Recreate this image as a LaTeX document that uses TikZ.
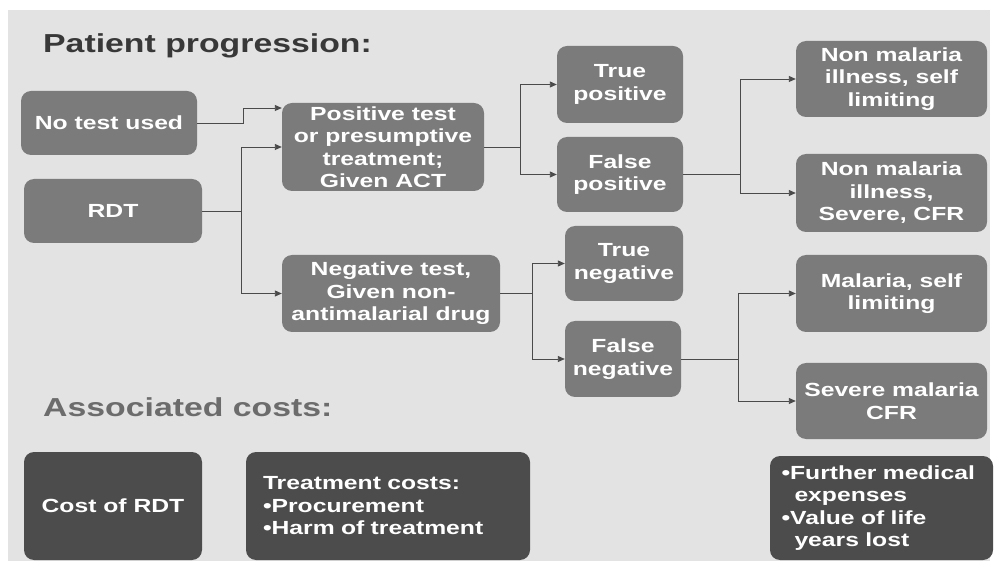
\documentclass[tikz,border=0pt]{standalone}
\usepackage{fontspec}
\setmainfont{Liberation Sans}[FakeStretch=1.3]
\usetikzlibrary{arrows.meta}
\definecolor{bggray}{HTML}{E3E3E3}
\definecolor{boxgray}{HTML}{7B7B7B}
\definecolor{darkgray}{HTML}{4C4C4C}
\definecolor{linegray}{HTML}{4A4A4A}
\definecolor{headdark}{HTML}{383838}
\definecolor{headlight}{HTML}{6C6C6C}
\begin{document}
\begin{tikzpicture}[x=1pt,y=-1pt,
	box/.style={rounded corners=10pt,fill=boxgray,text=white,align=center,inner sep=2pt,
		font=\bfseries\fontsize{19}{22.5}\selectfont},
	darkbox/.style={box,fill=darkgray},
	heading/.style={anchor=base west,inner sep=0pt,font=\bfseries\fontsize{26}{30}\selectfont},
	conn/.style={draw=linegray,line width=0.9pt,-{Triangle[length=7pt,width=6pt]}}]
	\useasboundingbox (0,0) rectangle (994,561);
	\fill[white] (0,0) rectangle (994,561);
	\fill[bggray] (8,10) rectangle (990,561);
	% headings
	\node[heading,text=headdark] (hpp) at (43,53) {Patient progression:};
	\node[heading,text=headlight] (hac) at (43,417) {Associated costs:};
	% progression boxes
	\node[box,minimum width=176pt,minimum height=64pt] (nt) at (109,123) {No test used};
	\node[box,minimum width=178pt,minimum height=64pt] (rdt) at (113,211) {RDT};
	\node[box,minimum width=202pt,minimum height=88pt] (pos) at (383,147) {Positive test\\or presumptive\\treatment;\\Given ACT};
	\node[box,minimum width=218pt,minimum height=77pt] (neg) at (391,293.5) {Negative test,\\Given non-\\antimalarial drug};
	\node[box,minimum width=126pt,minimum height=77pt] (tp) at (620,84.5) {True\\positive};
	\node[box,minimum width=126pt,minimum height=75pt] (fp) at (620,174.5) {False\\positive};
	\node[box,minimum width=118pt,minimum height=75pt] (tn) at (624,263.5) {True\\negative};
	\node[box,minimum width=116pt,minimum height=76pt] (fn) at (623,359) {False\\negative};
	\node[box,minimum width=191pt,minimum height=76pt] (nms) at (891.5,79) {Non malaria\\illness, self\\limiting};
	\node[box,minimum width=191pt,minimum height=78pt] (nmc) at (891.5,193) {Non malaria\\illness,\\Severe, CFR};
	\node[box,minimum width=191pt,minimum height=77pt] (ms) at (891.5,293.5) {Malaria, self\\limiting};
	\node[box,minimum width=191pt,minimum height=76pt] (sm) at (891.5,401) {Severe malaria\\CFR};
	% cost boxes
	\node[darkbox,minimum width=178pt,minimum height=108pt] (crdt) at (113,506) {Cost of RDT};
	\node[darkbox,align=left,text width=250pt,inner xsep=17pt,minimum height=108pt] (tc) at (388,506)
		{Treatment costs:\\\textbullet Procurement\\\textbullet Harm of treatment};
	\node[darkbox,align=left,text width=200pt,inner xsep=11.5pt,minimum height=104pt] (fme) at (881.5,508)
		{\textbullet Further medical\\\hspace*{13pt}expenses\\\textbullet Value of life\\\hspace*{13pt}years lost};
	% connectors
	\draw[conn] (nt.east) -- ++(46,0) |- ([yshift=39pt]pos.west);
	\draw[linegray,line width=0.9pt] (rdt.east) -- ++(39,0) coordinate (rj);
	\draw[conn] (rj) |- (pos.west);
	\draw[conn] (rj) |- (neg.west);
	\draw[linegray,line width=0.9pt] (pos.east) -- ++(36,0) coordinate (pj);
	\draw[conn] (pj) |- (tp.west);
	\draw[conn] (pj) |- (fp.west);
	\draw[linegray,line width=0.9pt] (neg.east) -- ++(32,0) coordinate (nj);
	\draw[conn] (nj) |- (tn.west);
	\draw[conn] (nj) |- (fn.west);
	\draw[linegray,line width=0.9pt] (fp.east) -- ++(57,0) coordinate (fpj);
	\draw[conn] (fpj) |- (nms.west);
	\draw[conn] (fpj) |- (nmc.west);
	\draw[linegray,line width=0.9pt] (fn.east) -- ++(57,0) coordinate (fnj);
	\draw[conn] (fnj) |- (ms.west);
	\draw[conn] (fnj) |- (sm.west);
\end{tikzpicture}
\end{document}
